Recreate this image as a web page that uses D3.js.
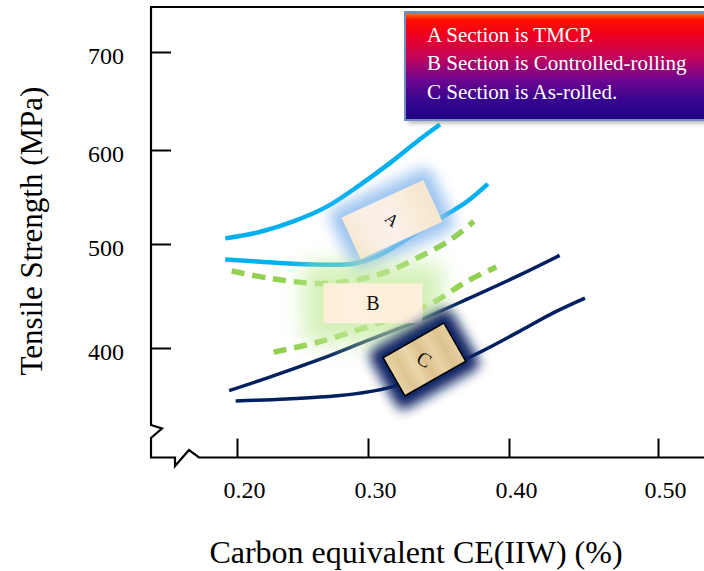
<!DOCTYPE html>
<html>
<head>
<meta charset="utf-8">
<script src="https://cdn.jsdelivr.net/npm/d3@7"></script>
<style>
  html, body { margin: 0; padding: 0; background: #fff; }
  svg { display: block; }
  text { font-family: "Liberation Serif", "Times New Roman", serif; }
</style>
</head>
<body>
<svg id="chart" width="704" height="571"></svg>
<script>
// Tick values and labels
const xTicks = [0.20, 0.30, 0.40, 0.50];
const xTickLabels = ["0.20", "0.30", "0.40", "0.50"];
const yTicks = [400, 500, 600, 700];
const yTickLabels = ["400", "500", "600", "700"];

// Band boundaries: carbon equivalent (%) vs tensile strength (MPa)
const ceA_upper = [0.191, 0.218, 0.243, 0.269, 0.294, 0.318, 0.335, 0.351];
const tsA_upper = [506, 513, 524, 540, 563, 589, 609, 626];
const ceA_lower = [0.191, 0.218, 0.243, 0.269, 0.289, 0.306, 0.323, 0.339, 0.353, 0.370, 0.385];
const tsA_lower = [485, 483, 481, 480, 481, 488, 501, 517, 529, 545, 564];

const ceB_upper = [0.196, 0.225, 0.263, 0.289, 0.313, 0.337, 0.358, 0.375];
const tsB_upper = [474, 467, 462, 465, 473, 488, 504, 524];
const ceB_lower = [0.228, 0.263, 0.301, 0.327, 0.349, 0.370, 0.391];
const tsB_lower = [396, 406, 421, 432, 446, 464, 478];

const ceC_upper = [0.194, 0.225, 0.263, 0.301, 0.337, 0.372, 0.407, 0.434];
const tsC_upper = [359, 372, 389, 408, 427, 448, 470, 489];
const ceC_lower = [0.199, 0.238, 0.276, 0.309, 0.340, 0.375, 0.407, 0.430, 0.451];
const tsC_lower = [349, 351, 354, 360, 373, 393, 416, 434, 448];

// Section tags, anchored at (CE, TS)
const sectionNames = ["A", "B", "C"];
const sectionCE = [0.317, 0.3035, 0.340];
const sectionTS = [526, 443, 389];

// Legend lines
const legendLines = ["A Section is TMCP.", "B Section is Controlled-rolling", "C Section is As-rolled."];

const svg = d3.select("#chart");
const defs = svg.append("defs");

// Axis layout (axis is broken near the origin)
const xAxisY = 457.5, yAxisX = 151, topY = 7;

const x = d3.scaleLinear().domain(xTicks).range([237, 368, 509, 658]);
const y = d3.scaleLinear().domain(yTicks).range([348, 244, 150, 52]);

// Blur filters for glows and shadows
function blurFilter(id, sd) {
  defs.append("filter").attr("id", id)
    .attr("x", "-60%").attr("y", "-60%").attr("width", "220%").attr("height", "220%")
    .append("feGaussianBlur").attr("stdDeviation", sd);
}
blurFilter("glowA", 7);
blurFilter("glowB", 11);
blurFilter("glowC", 6);
blurFilter("shadow", 2.5);

// Paper-like fills for the tags
function paperGradient(id, stops) {
  const g = defs.append("linearGradient").attr("id", id)
    .attr("x1", 0).attr("y1", 0).attr("x2", 1).attr("y2", 0);
  stops.forEach((c, i) => g.append("stop")
    .attr("offset", `${(i / (stops.length - 1)) * 100}%`).attr("stop-color", c));
}
paperGradient("paperA", ["#f7e9d2", "#faefe6", "#fbf0e9", "#f8ecd8", "#f5e6cc"]);
paperGradient("paperB", ["#fcefd9", "#fdf1de", "#fcefd8", "#fdf0dc"]);
paperGradient("paperC", ["#e9d4a6", "#dfc592", "#ead7ac", "#ddc08b", "#e8d3a6", "#dcc28f", "#e6d0a2"]);

// Frame with axis breaks
const frame = svg.append("g").attr("fill", "none").attr("stroke", "#000")
  .attr("stroke-width", 2.2).attr("stroke-linejoin", "miter");
frame.append("path").attr("d",
  `M704,${topY} L${yAxisX},${topY} L${yAxisX},425 L162,428.5 L${yAxisX},438 L${yAxisX},${xAxisY} L175,${xAxisY} L175,466 L189,450 L199,${xAxisY} L704,${xAxisY}`);

// X axis (ticks point inward)
const gx = svg.append("g").attr("transform", `translate(0,${xAxisY})`)
  .call(d3.axisBottom(x).tickValues(xTicks).tickFormat((d, i) => xTickLabels[i])
    .tickSizeInner(-19).tickSizeOuter(0));
gx.select(".domain").remove();
gx.selectAll(".tick line").attr("stroke", "#000").attr("stroke-width", 2);
gx.selectAll(".tick text")
  .attr("y", 32).attr("dy", "0.35em").attr("dx", 7)
  .attr("font-size", 24).attr("fill", "#000")
  .style("font-family", "'Liberation Serif', 'Times New Roman', serif");

// Y axis (ticks point inward)
const gy = svg.append("g").attr("transform", `translate(${yAxisX},0)`)
  .call(d3.axisLeft(y).tickValues(yTicks).tickFormat((d, i) => yTickLabels[i])
    .tickSizeInner(-20).tickSizeOuter(0));
gy.select(".domain").remove();
gy.selectAll(".tick line").attr("stroke", "#000").attr("stroke-width", 2);
gy.selectAll(".tick text")
  .attr("x", -27).attr("y", 3).attr("dy", "0.35em")
  .attr("font-size", 24).attr("fill", "#000")
  .style("font-family", "'Liberation Serif', 'Times New Roman', serif");

// Axis titles
svg.append("text").attr("x", 416).attr("y", 563).attr("text-anchor", "middle")
  .attr("font-size", 32).attr("fill", "#000").text("Carbon equivalent CE(IIW) (%)");
svg.append("text").attr("transform", "translate(42,231) rotate(-90)").attr("text-anchor", "middle")
  .attr("font-size", 31).attr("fill", "#000").text("Tensile Strength (MPa)");

// Band curves
const line = d3.line().x(d => x(d[0])).y(d => y(d[1])).curve(d3.curveCatmullRom.alpha(0.5));
const zip = (a, b) => a.map((v, i) => [v, b[i]]);
const curves = [
  { pts: zip(ceA_upper, tsA_upper), color: "#00b0f0", w: 4.5, dash: null },
  { pts: zip(ceA_lower, tsA_lower), color: "#00b0f0", w: 4.5, dash: null },
  { pts: zip(ceB_upper, tsB_upper), color: "#92d050", w: 5.5, dash: "13,8" },
  { pts: zip(ceB_lower, tsB_lower), color: "#92d050", w: 5.5, dash: "13,8" },
  { pts: zip(ceC_upper, tsC_upper), color: "#002060", w: 3.5, dash: null },
  { pts: zip(ceC_lower, tsC_lower), color: "#002060", w: 3.5, dash: null }
];
svg.append("g").selectAll("path").data(curves).join("path")
  .attr("d", d => line(d.pts))
  .attr("fill", "none")
  .attr("stroke", d => d.color)
  .attr("stroke-width", d => d.w)
  .attr("stroke-dasharray", d => d.dash);

// Section tags with glow
const tagStyle = [
  { w: 90, h: 46, rot: -24.6, fill: "url(#paperA)", glow: "#8dbbef", glowPad: 11, glowOp: 0.85, filter: "glowA", stroke: "none", font: 17, textRot: 65 },
  { w: 99, h: 40, rot: 0, fill: "url(#paperB)", glow: "#c6eba0", glowPad: 20, glowOp: 0.75, filter: "glowB", stroke: "none", font: 20, textRot: 0 },
  { w: 70, h: 44, rot: -29.7, fill: "url(#paperC)", glow: "#0a2464", glowPad: 12, glowOp: 1, filter: "glowC", stroke: "#000", font: 20, textRot: 60 }
];
const tags = svg.append("g").selectAll("g").data(sectionNames).join("g")
  .attr("transform", (d, i) => `translate(${x(sectionCE[i])},${y(sectionTS[i])}) rotate(${tagStyle[i].rot})`);
tags.append("rect")
  .attr("x", (d, i) => -tagStyle[i].w / 2 - tagStyle[i].glowPad)
  .attr("y", (d, i) => -tagStyle[i].h / 2 - tagStyle[i].glowPad)
  .attr("width", (d, i) => tagStyle[i].w + 2 * tagStyle[i].glowPad)
  .attr("height", (d, i) => tagStyle[i].h + 2 * tagStyle[i].glowPad)
  .attr("rx", 8)
  .attr("fill", (d, i) => tagStyle[i].glow)
  .attr("opacity", (d, i) => tagStyle[i].glowOp)
  .attr("filter", (d, i) => `url(#${tagStyle[i].filter})`);
tags.append("rect")
  .attr("x", (d, i) => -tagStyle[i].w / 2)
  .attr("y", (d, i) => -tagStyle[i].h / 2)
  .attr("width", (d, i) => tagStyle[i].w)
  .attr("height", (d, i) => tagStyle[i].h)
  .attr("fill", (d, i) => tagStyle[i].fill)
  .attr("stroke", (d, i) => tagStyle[i].stroke)
  .attr("stroke-width", 1.5);
tags.append("text")
  .attr("transform", (d, i) => `rotate(${tagStyle[i].textRot})`)
  .attr("text-anchor", "middle").attr("dy", "0.35em")
  .attr("font-size", (d, i) => tagStyle[i].font)
  .attr("fill", "#111")
  .text(d => d);

// Legend box
const lg = defs.append("linearGradient").attr("id", "legendFill")
  .attr("x1", 0).attr("y1", 0).attr("x2", 0).attr("y2", 1);
[["0%", "#ff8a00"], ["7%", "#ff1000"], ["20%", "#f2001c"], ["42%", "#c2045a"],
 ["62%", "#70058f"], ["82%", "#360590"], ["100%", "#1c0480"]]
  .forEach(s => lg.append("stop").attr("offset", s[0]).attr("stop-color", s[1]));
svg.append("rect").attr("x", 408).attr("y", 15).attr("width", 310).attr("height", 108)
  .attr("fill", "#777").attr("opacity", 0.6).attr("filter", "url(#shadow)");
svg.append("rect").attr("x", 405).attr("y", 12).attr("width", 310).attr("height", 108)
  .attr("fill", "url(#legendFill)").attr("stroke", "#6f8fc2").attr("stroke-width", 2);
svg.append("g").selectAll("text").data(legendLines).join("text")
  .attr("x", 427).attr("y", (d, i) => 42 + i * 28.3)
  .attr("font-size", 21).attr("fill", "#fff")
  .text(d => d);
</script>
</body>
</html>
